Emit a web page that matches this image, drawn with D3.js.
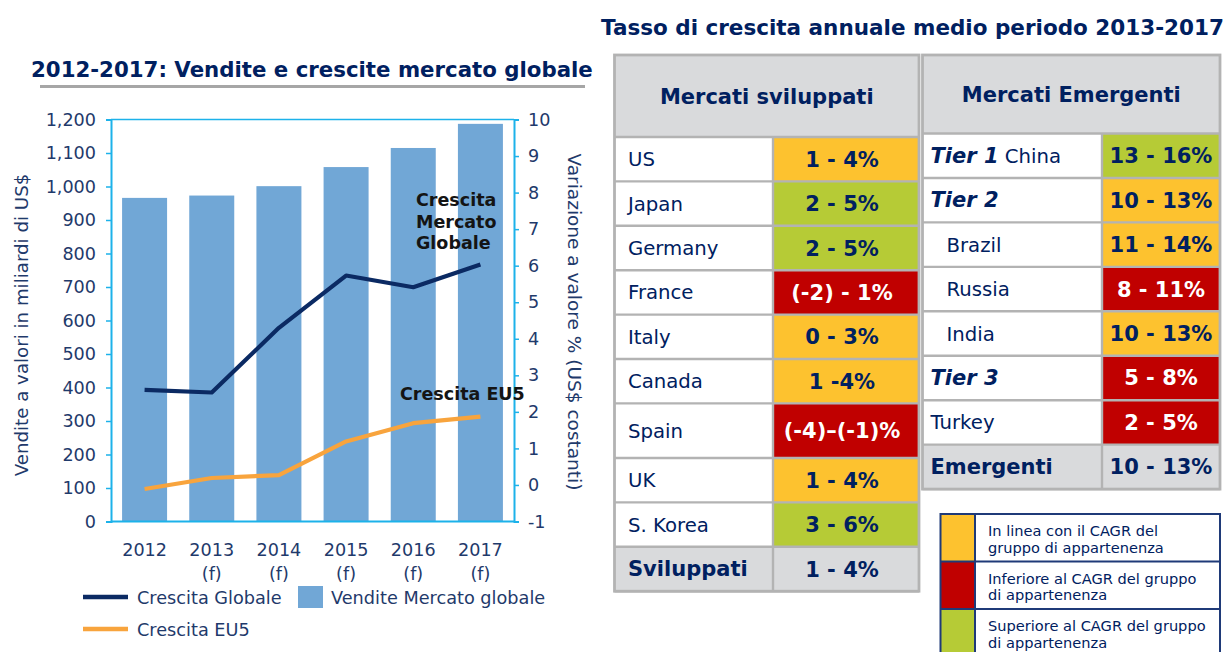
<!DOCTYPE html>
<html><head><meta charset="utf-8">
<script src="https://cdn.jsdelivr.net/npm/d3@7"></script>
<style>
html,body{margin:0;padding:0;background:#fff;}
svg{display:block;font-family:"DejaVu Sans",Verdana,sans-serif;}
</style></head>
<body>
<svg id="c" width="1226" height="652"></svg>
<script>
// ---------- DATA ----------
const years = ["2012","2013","2014","2015","2016","2017"];
const yearNotes = ["","(f)","(f)","(f)","(f)","(f)"];
const salesGlobal = [966, 973, 1001, 1058, 1115, 1187];          // miliardi US$
const growthGlobal = [2.60, 2.53, 4.30, 5.73, 5.41, 6.03];       // %
const growthEU5 = [-0.11, 0.19, 0.27, 1.19, 1.69, 1.87];         // %
const leftTicks = [0,100,200,300,400,500,600,700,800,900,1000,1100,1200];
const rightTicks = [-1,0,1,2,3,4,5,6,7,8,9,10];

const devMarkets = ["US","Japan","Germany","France","Italy","Canada","Spain","UK","S. Korea"];
const devRanges  = ["1 - 4%","2 - 5%","2 - 5%","(-2) - 1%","0 - 3%","1 -4%","(-4)\u2013(-1)%","1 - 4%","3 - 6%"];
const devStatus  = ["in","above","above","below","in","in","below","in","above"];
const devTotal   = ["Sviluppati","1 - 4%"];

const emTiers    = ["Tier 1","Tier 2","","","","Tier 3",""];
const emMarkets  = ["China","","Brazil","Russia","India","","Turkey"];
const emRanges   = ["13 - 16%","10 - 13%","11 - 14%","8 - 11%","10 - 13%","5 - 8%","2 - 5%"];
const emStatus   = ["above","in","in","below","in","below","below"];
const emTotal    = ["Emergenti","10 - 13%"];

const legendStatus = ["in","below","above"];
const legendLabels = [["In linea con il CAGR del","gruppo di appartenenza"],
                      ["Inferiore al CAGR del gruppo","di appartenenza"],
                      ["Superiore al CAGR del gruppo","di appartenenza"]];

// ---------- STYLE ----------
const NAVY = "#002060", TICK = "#1f3a6b", CYAN = "#1cb2ea";
const statusColor = {in:"#fdc22f", below:"#c00000", above:"#b6cb36"};
const GRID = "#b3b3b3", HEAD = "#d9dadc";

const svg = d3.select("#c");

// ---------- TITLES ----------
svg.append("text").attr("x",31).attr("y",77).attr("fill",NAVY)
  .attr("font-weight","bold").attr("font-size",21.3)
  .text("2012-2017: Vendite e crescite mercato globale");
svg.append("rect").attr("x",40).attr("y",85).attr("width",545).attr("height",3).attr("fill","#a6a6a6");
svg.append("text").attr("x",601).attr("y",35).attr("fill",NAVY)
  .attr("font-weight","bold").attr("font-size",21.5)
  .text("Tasso di crescita annuale medio periodo 2013-2017");

// ---------- CHART ----------
const x = d3.scaleBand().domain(years).range([111,514]).paddingInner(0.33).paddingOuter(0.165);
const yL = d3.scaleLinear().domain([0,1200]).range([521.5,119.5]);
const yR = d3.scaleLinear().domain([-1,10]).range([521.5,119.5]);
const cx = d => x(d) + x.bandwidth()/2;

const g = svg.append("g");
g.selectAll("rect.bar").data(years).join("rect").attr("class","bar")
  .attr("x", d => x(d)).attr("width", x.bandwidth())
  .attr("y", (d,i) => yL(salesGlobal[i])).attr("height", (d,i) => yL(0) - yL(salesGlobal[i]))
  .attr("fill","#71a7d6");

// frame top
g.append("line").attr("x1",111).attr("x2",514).attr("y1",119.5).attr("y2",119.5)
  .attr("stroke",CYAN).attr("stroke-width",1.5);

const axL = g.append("g").attr("transform","translate(111,0)")
  .call(d3.axisLeft(yL).tickValues(leftTicks).tickSize(5).tickPadding(10).tickFormat(d3.format(",")));
const axR = g.append("g").attr("transform","translate(514,0)")
  .call(d3.axisRight(yR).tickValues(rightTicks).tickSize(5).tickPadding(9).tickFormat(d => String(d)));
const axB = g.append("g").attr("transform","translate(0,521.5)")
  .call(d3.axisBottom(x).tickSize(0).tickFormat(""));
[axL,axR,axB].forEach(a=>{
  a.selectAll("path.domain").attr("stroke",CYAN).attr("stroke-width",2);
  a.selectAll(".tick line").attr("stroke",CYAN).attr("stroke-width",1.5);
  a.selectAll(".tick text").attr("fill",TICK).attr("font-size",17.6).attr("font-family","DejaVu Sans");
});
axB.select("path.domain").attr("d","M111,0H514");

// x labels
const xl = g.append("g");
xl.selectAll("text.y1").data(years).join("text").attr("class","y1")
  .attr("x", cx).attr("y",556).attr("text-anchor","middle")
  .attr("fill",TICK).attr("font-size",17.6).text(d=>d);
xl.selectAll("text.y2").data(yearNotes).join("text").attr("class","y2")
  .attr("x",(d,i)=>cx(years[i])).attr("y",580).attr("text-anchor","middle")
  .attr("fill",TICK).attr("font-size",17.6).text(d=>d);

// lines
const line = d3.line().x((d,i)=>cx(years[i])).y(d=>yR(d));
g.append("path").datum(growthGlobal).attr("d",line).attr("fill","none")
  .attr("stroke","#0b2a63").attr("stroke-width",4.2).attr("stroke-linejoin","round");
g.append("path").datum(growthEU5).attr("d",line).attr("fill","none")
  .attr("stroke","#f8a43d").attr("stroke-width",4.2).attr("stroke-linejoin","round");

// annotations
const ann = g.append("text").attr("fill","#141414").attr("font-weight","bold").attr("font-size",17.5);
["Crescita","Mercato","Globale"].forEach((t,i)=>ann.append("tspan").attr("x",416).attr("y",206+i*21.5).text(t));
g.append("text").attr("x",400).attr("y",400).attr("fill","#141414").attr("font-weight","bold")
  .attr("font-size",17.5).text("Crescita EU5");

// axis titles
g.append("text").attr("transform","translate(28,325) rotate(-90)").attr("text-anchor","middle")
  .attr("fill",TICK).attr("font-size",18.2).text("Vendite a valori in miliardi di US$");
g.append("text").attr("transform","translate(568,322) rotate(90)").attr("text-anchor","middle")
  .attr("fill",TICK).attr("font-size",18.5).text("Variazione a valore % (US$ costanti)");

// legend
const lg = svg.append("g");
lg.append("line").attr("x1",83).attr("x2",128).attr("y1",597).attr("y2",597).attr("stroke","#0b2a63").attr("stroke-width",4.5);
lg.append("text").attr("x",137).attr("y",604).attr("fill",TICK).attr("font-size",17.7).text("Crescita Globale");
lg.append("rect").attr("x",298).attr("y",586).attr("width",25).attr("height",22).attr("fill","#71a7d6");
lg.append("text").attr("x",331).attr("y",604).attr("fill",TICK).attr("font-size",17.7).text("Vendite Mercato globale");
lg.append("line").attr("x1",83).attr("x2",128).attr("y1",629).attr("y2",629).attr("stroke","#f8a43d").attr("stroke-width",4.5);
lg.append("text").attr("x",137).attr("y",636).attr("fill",TICK).attr("font-size",17.7).text("Crescita EU5");

// ---------- TABLES ----------
function drawTable(cfg){
  const t = svg.append("g");
  const n = cfg.rows.length;
  const edges = [cfg.bodyTop];
  cfg.rows.forEach((r,i)=>edges.push(edges[i] + cfg.rowH * (r.tall ? cfg.tallK : 1)));
  // header
  t.append("rect").attr("x",cfg.x0).attr("y",cfg.top).attr("width",cfg.x1-cfg.x0).attr("height",cfg.bodyTop-cfg.top).attr("fill",HEAD);
  t.append("text").attr("x",(cfg.x0+cfg.x1)/2).attr("y",(cfg.top+cfg.bodyTop)/2+7.5)
    .attr("text-anchor","middle").attr("font-weight","bold").attr("font-size",21).attr("fill",NAVY).text(cfg.title);
  cfg.rows.forEach((r,i)=>{
    const y0 = edges[i], y1 = edges[i+1], mid = (y0+y1)/2;
    t.append("rect").attr("x",cfg.x0).attr("y",y0).attr("width",cfg.xs-cfg.x0).attr("height",y1-y0)
      .attr("fill", r.total ? HEAD : "#fff");
    t.append("rect").attr("x",cfg.xs).attr("y",y0).attr("width",cfg.x1-cfg.xs).attr("height",y1-y0)
      .attr("fill", r.total ? HEAD : statusColor[r.status]);
    const lab = t.append("text").attr("x",cfg.x0 + cfg.pad + (r.indent?cfg.indent:0)).attr("y",mid+7)
      .attr("fill",NAVY).attr("font-size",19.7);
    if (r.tier) lab.append("tspan").attr("font-weight","bold").attr("font-style","italic").attr("font-size",21).text(r.tier);
    if (r.name) lab.append("tspan").attr("font-weight", r.total ? "bold" : "normal")
      .attr("font-size", r.total ? 21 : 19.7).text((r.tier ? " " : "") + r.name);
    t.append("text").attr("x",cfg.vx).attr("y",mid+7.5).attr("text-anchor","middle")
      .attr("font-weight","bold").attr("font-size",21)
      .attr("fill", (!r.total && r.status==="below") ? "#fff" : NAVY).text(r.value);
  });
  // grid
  const gl = t.append("g").attr("stroke",GRID).attr("stroke-width",2.4).attr("fill","none");
  edges.forEach(e=>gl.append("line").attr("x1",cfg.x0).attr("x2",cfg.x1).attr("y1",e).attr("y2",e));
  gl.append("line").attr("x1",cfg.xs).attr("x2",cfg.xs).attr("y1",cfg.bodyTop).attr("y2",edges[n]);
  gl.append("rect").attr("x",cfg.x0).attr("y",cfg.top).attr("width",cfg.x1-cfg.x0).attr("height",edges[n]-cfg.top).attr("stroke-width",2.8);
}

const devRows = devMarkets.map((m,i)=>({name:m, value:devRanges[i], status:devStatus[i], tall: m==="Spain"}));
devRows.push({name:devTotal[0], value:devTotal[1], total:true});
drawTable({title:"Mercati sviluppati", x0:614.5, x1:919, xs:773, top:55, bodyTop:137, rowH:44.4, tallK:1.23,
  pad:13.5, indent:0, vx:842, rows:devRows});

const emIndent = [0,0,1,1,1,0,0];
const emRows = emMarkets.map((m,i)=>({tier:emTiers[i], name:m, value:emRanges[i], status:emStatus[i], indent:emIndent[i]}));
emRows.push({name:emTotal[0], value:emTotal[1], total:true});
drawTable({title:"Mercati Emergenti", x0:922.5, x1:1220, xs:1102, top:55, bodyTop:133.5, rowH:44.45, tallK:1,
  pad:8, indent:16, vx:1161, rows:emRows});

// ---------- COLOUR LEGEND ----------
const L = svg.append("g");
const lx0=940.5, lx1=1220, ls=975, ltop=514, lh=47.5;
legendStatus.forEach((s,i)=>{
  const y0 = ltop + i*lh;
  L.append("rect").attr("x",lx0).attr("y",y0).attr("width",ls-lx0).attr("height",lh).attr("fill",statusColor[s]);
  L.append("rect").attr("x",ls).attr("y",y0).attr("width",lx1-ls).attr("height",lh).attr("fill","#fff");
  legendLabels[i].forEach((tx,j)=>L.append("text").attr("x",988).attr("y",y0+22+j*16.5)
    .attr("fill",NAVY).attr("font-size",14.6).text(tx));
});
const lgl = L.append("g").attr("stroke","#1f3a78").attr("stroke-width",2).attr("fill","none");
lgl.append("rect").attr("x",lx0).attr("y",ltop).attr("width",lx1-lx0).attr("height",lh*3);
lgl.append("line").attr("x1",ls).attr("x2",ls).attr("y1",ltop).attr("y2",ltop+lh*3);
[1,2].forEach(k=>lgl.append("line").attr("x1",lx0).attr("x2",lx1).attr("y1",ltop+k*lh).attr("y2",ltop+k*lh));
</script>
</body></html>
